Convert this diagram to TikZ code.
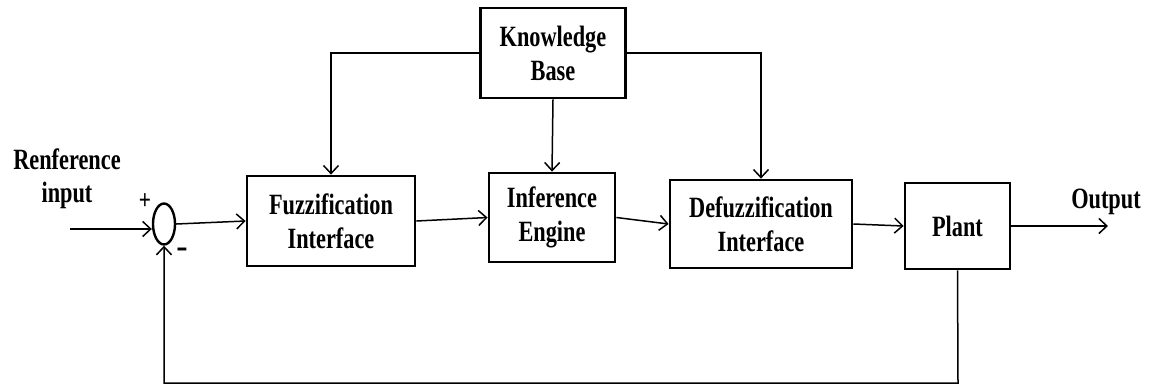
\documentclass[tikz,border=0pt]{standalone}
\usepackage{fontspec}
\setmainfont{Liberation Serif}
\usetikzlibrary{arrows.meta,shapes.geometric}
\newcommand{\tall}[1]{\scalebox{0.97}[1.28]{#1}}
\begin{document}
\begin{tikzpicture}[x=1pt,y=-1pt,
  blk/.style={draw,line width=2.8pt,rectangle,align=center,inner sep=0pt,
    font=\fontsize{23}{34}\selectfont\bfseries},
  lbl/.style={align=center,inner sep=0pt,font=\fontsize{23}{33}\selectfont\bfseries},
  conn/.style={line width=1.5pt},
  arr/.style={conn,-{Straight Barb[length=8pt,width=15pt,line width=1.5pt]}}]
\useasboundingbox (0,0) rectangle (1150,389);
\node[blk,minimum width=145pt,minimum height=90pt] (kb) at (553,53) {\tall{Knowledge}\\\tall{Base}};
\node[blk,minimum width=168pt,minimum height=90pt] (fuzz) at (331,221) {\tall{Fuzzification}\\\tall{Interface}};
\node[blk,minimum width=126pt,minimum height=89pt] (inf) at (552,217.5) {\tall{Inference}\\\tall{Engine}};
\node[blk,minimum width=182pt,minimum height=88pt] (defuzz) at (761,224) {\tall{Defuzzification}\\\tall{Interface}};
\node[blk,minimum width=105pt,minimum height=86pt] (plant) at (957.5,226) {\tall{Plant}};
\node[draw,ellipse,line width=2.4pt,minimum width=22pt,minimum height=41pt,inner sep=0pt] (sum) at (164,224) {};
\node[lbl] (refin) at (67,179) {\tall{Renference}\\\tall{input}};
\node[lbl] (outl) at (1106,202) {\tall{Output}};
\node[lbl,font=\fontsize{22}{22}\selectfont\bfseries] (plus) at (145,202) {\tall{+}};
\node[lbl,font=\fontsize{34}{34}\selectfont\bfseries] (minus) at (182,253) {-};
\coordinate (in) at (70,229);
\coordinate (out) at (1108,226);
\coordinate (fb) at (958,383);
\draw[arr] (kb.west) -| (fuzz.north);
\draw[arr] (kb.east) -| (defuzz.north);
\draw[arr] (kb.south) -- (inf.north);
\draw[arr] (in) -- (in -| sum.west);
\draw[arr] (sum.east) -- (fuzz.west);
\draw[arr] (fuzz.east) -- (inf.west);
\draw[arr] (inf.east) -- (defuzz.west);
\draw[arr] (defuzz.east) -- (plant.west);
\draw[arr] (plant.east) -- (out);
\draw[arr] (plant.south) -- (fb) -| (sum.south);
\end{tikzpicture}
\end{document}
